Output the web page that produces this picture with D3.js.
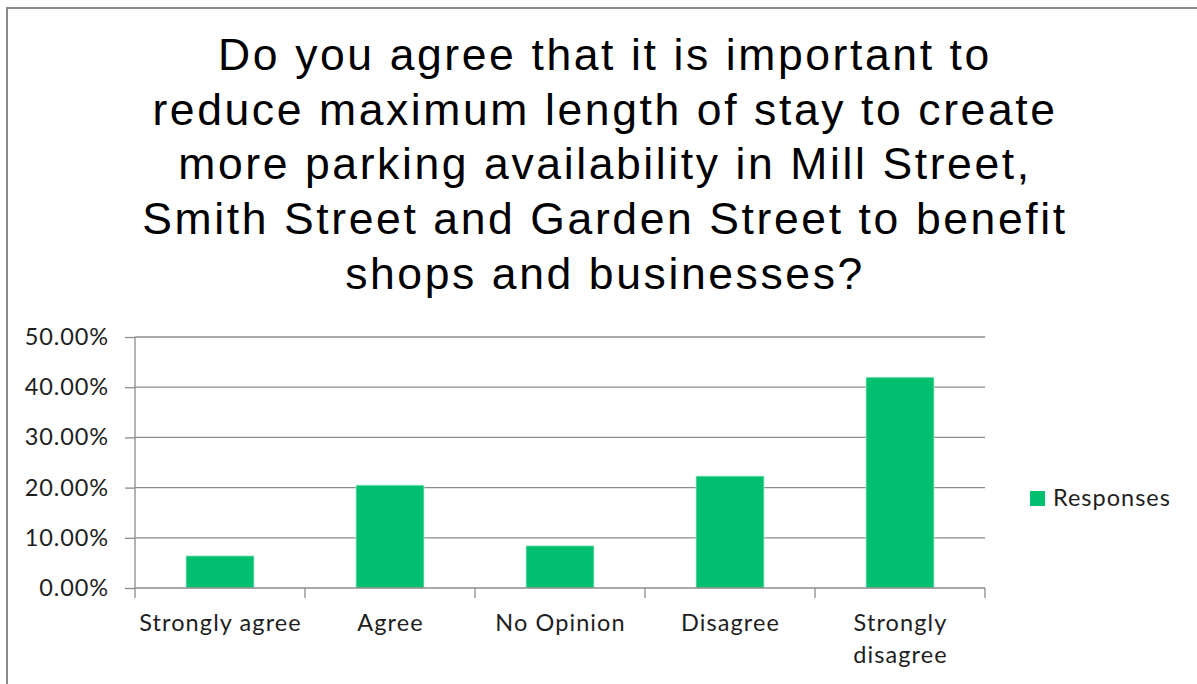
<!DOCTYPE html>
<html><head><meta charset="utf-8">
<script src="https://cdn.jsdelivr.net/npm/d3@7"></script>
<style>html,body{margin:0;padding:0;background:#fff;}svg{display:block;}</style>
</head><body>
<svg id="chart" width="1197" height="684"></svg>
<script>
const titleLines = [
  "Do you agree that it is important to",
  "reduce maximum length of stay to create",
  "more parking availability in Mill Street,",
  "Smith Street and Garden Street to benefit",
  "shops and businesses?"
];
const categories = ["Strongly agree", "Agree", "No Opinion", "Disagree", "Strongly disagree"];
const categoryLabelLines = [["Strongly agree"], ["Agree"], ["No Opinion"], ["Disagree"], ["Strongly", "disagree"]];
const responses = [0.064, 0.205, 0.084, 0.223, 0.42];
const yTicks = [0, 0.1, 0.2, 0.3, 0.4, 0.5];
const seriesName = "Responses";

const svg = d3.select("#chart");
const bodyFont = "Lato, 'Open Sans', sans-serif";
const textColor = "#1e1e1e";
const gridColor = "#8c8c8c";
const barColor = "#00BF6F";

// outer frame
svg.append("path")
  .attr("d", "M7,690 L7,8 L1200,8")
  .attr("fill", "none").attr("stroke", "#8a8a8a").attr("stroke-width", 2);

// title
const title = svg.append("text")
  .attr("text-anchor", "middle")
  .attr("font-family", "'Liberation Sans', Arial, sans-serif")
  .attr("font-size", 44.5)
  .attr("letter-spacing", 2.6)
  .attr("fill", "#000");
titleLines.forEach((l, i) => {
  title.append("tspan").attr("x", 605).attr("y", 70 + i * 54.7).text(l);
});

const x = d3.scaleBand().domain(categories).range([135, 985]).paddingInner(0.6).paddingOuter(0.3);
const y = d3.scaleLinear().domain([0, 0.5]).range([588, 337]);

// gridlines
svg.append("g").selectAll("line").data(yTicks.slice(1)).join("line")
  .attr("x1", 135).attr("x2", 985)
  .attr("y1", d => y(d)).attr("y2", d => y(d))
  .attr("stroke", gridColor).attr("stroke-width", 1.3);

// bars
svg.append("g").selectAll("rect").data(responses).join("rect")
  .attr("x", (d, i) => x(categories[i]))
  .attr("y", d => y(d))
  .attr("width", x.bandwidth())
  .attr("height", d => y(0) - y(d))
  .attr("fill", barColor)
  .attr("stroke", "#b8eed6").attr("stroke-width", 0.8);

// y axis
const yAxis = d3.axisLeft(y).tickValues(yTicks).tickSize(10).tickPadding(16)
  .tickFormat(d => (d * 100).toFixed(2) + "%");
const gy = svg.append("g").attr("transform", "translate(135,0)").call(yAxis);
gy.select(".domain").attr("stroke", gridColor).attr("stroke-width", 1.3).attr("d", "M0,588V337");
gy.selectAll(".tick line").attr("stroke", gridColor).attr("stroke-width", 1.3);
gy.selectAll(".tick text").attr("font-family", bodyFont).attr("font-size", 23.5)
  .attr("letter-spacing", 0.9).attr("fill", textColor);

// x axis
const xAxis = d3.axisBottom(x).tickSize(0).tickFormat("");
const gx = svg.append("g").attr("transform", "translate(0,588)").call(xAxis);
gx.select(".domain").attr("stroke", gridColor).attr("stroke-width", 1.3).attr("d", "M135,0H985");
const sep = categories.map((c, i) => x(c) - x.step() * x.paddingInner() / 2).concat([985]);
sep[0] = 135;
gx.append("g").selectAll("line").data(sep).join("line")
  .attr("x1", d => d).attr("x2", d => d).attr("y1", 0).attr("y2", 10)
  .attr("stroke", gridColor).attr("stroke-width", 1.3);

// category labels
const lbl = svg.append("g").attr("font-family", bodyFont).attr("font-size", 23.5)
  .attr("letter-spacing", 1.1).attr("fill", textColor).attr("text-anchor", "middle");
categories.forEach((c, i) => {
  const t = lbl.append("text");
  categoryLabelLines[i].forEach((line, j) => {
    t.append("tspan").attr("x", x(c) + x.bandwidth() / 2 + 0.5).attr("y", 631 + j * 32).text(line);
  });
});

// legend
const lg = svg.append("g").attr("transform", "translate(1030,491)");
lg.append("rect").attr("width", 15).attr("height", 15).attr("fill", barColor);
lg.append("text").attr("x", 23).attr("y", 15).attr("font-family", bodyFont).attr("font-size", 23.5)
  .attr("letter-spacing", 1).attr("fill", textColor).text(seriesName);
</script>
</body></html>
